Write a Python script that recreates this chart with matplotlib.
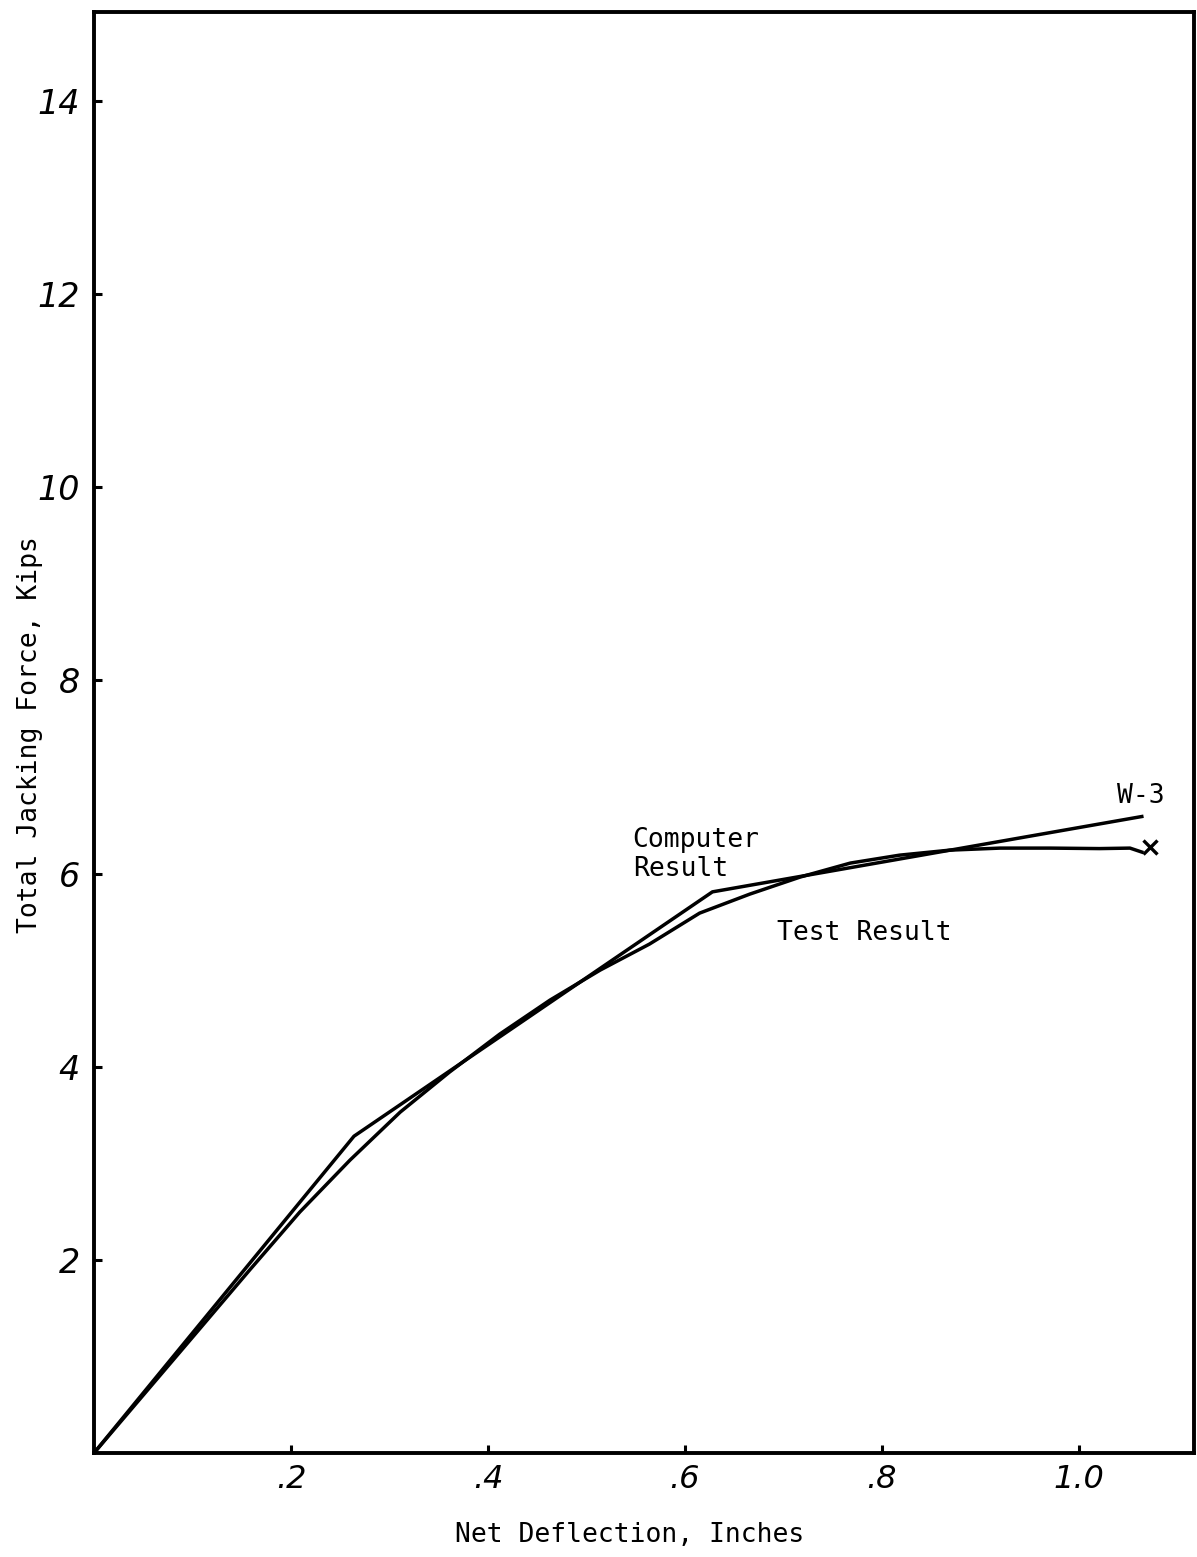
import matplotlib
matplotlib.use("Agg")
import matplotlib.pyplot as plt

# ---- data ----
computer_x = [0.0, 0.264, 0.628, 1.064]
computer_y = [0.0, 3.28, 5.81, 6.59]

test_x = [0.0, 0.057, 0.108, 0.158, 0.209, 0.260, 0.311, 0.361, 0.412, 0.463,
          0.514, 0.564, 0.615, 0.666, 0.717, 0.768, 0.818, 0.869, 0.920, 0.971,
          1.021, 1.052, 1.064]
test_y = [0.0, 0.683, 1.294, 1.894, 2.495, 3.033, 3.530, 3.944, 4.337, 4.689,
          5.000, 5.269, 5.590, 5.787, 5.963, 6.108, 6.190, 6.242, 6.263, 6.263,
          6.258, 6.263, 6.222]

failure_x = [1.072]
failure_y = [6.27]

xticks = [0.2, 0.4, 0.6, 0.8, 1.0]
xticklabels = [".2", ".4", ".6", ".8", "1.0"]
yticks = [2, 4, 6, 8, 10, 12, 14]
yticklabels = ["2", "4", "6", "8", "10", "12", "14"]

W, H = 1197, 1557
fig = plt.figure(figsize=(W / 100, H / 100), dpi=100)
ax = fig.add_axes([94 / W, 1 - 1453 / H, 1100 / W, 1441 / H])

ax.plot(computer_x, computer_y, color="black", lw=2.5, solid_joinstyle="round")
ax.plot(test_x, test_y, color="black", lw=2.5, solid_joinstyle="round")
ax.plot(failure_x, failure_y, linestyle="none", marker="x", color="black",
        markersize=10, mew=2.4)

ax.set_xlim(0, 1.117)
ax.set_ylim(0, 14.92)

for s in ax.spines.values():
    s.set_linewidth(2.8)
    s.set_color("black")

ax.set_xticks(xticks)
ax.set_xticklabels(xticklabels, fontsize=23, style="italic", family="DejaVu Sans")
ax.set_yticks(yticks)
ax.set_yticklabels(yticklabels, fontsize=24, style="italic", family="DejaVu Sans")
ax.tick_params(axis="both", direction="in", length=6, width=2.2, color="black")
ax.tick_params(axis="x", pad=8)
ax.tick_params(axis="y", pad=10)

mono = "DejaVu Sans Mono"
ax.set_xlabel("Net Deflection, Inches", fontsize=19, family=mono)
ax.xaxis.set_label_coords((630 - 94) / 1100, -(1535 - 1453) / 1441)
ax.xaxis.label.set_va("center")
ax.set_ylabel("Total Jacking Force, Kips", fontsize=19, family=mono)
ax.yaxis.set_label_coords((30 - 94) / 1100, (1453 - 735) / 1441)
ax.yaxis.label.set_va("center")

ax.text(0.547, 6.20, "Computer\nResult", fontsize=19, family=mono,
        ha="left", va="center", linespacing=1.15)
ax.text(0.694, 5.38, "Test Result", fontsize=19, family=mono,
        ha="left", va="center")
ax.text(1.039, 6.80, "W-3", fontsize=19, family=mono, ha="left", va="center")

fig.savefig("out.png", dpi=100, facecolor="white")
